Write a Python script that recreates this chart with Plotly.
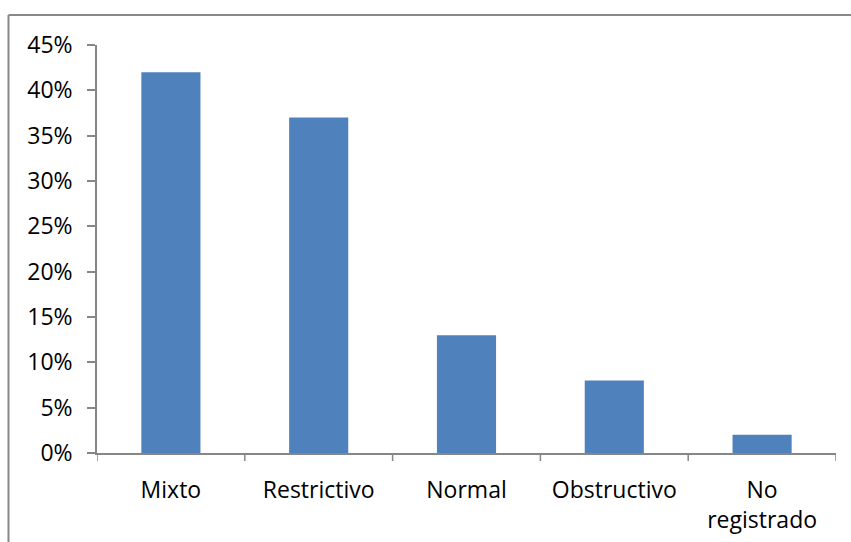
import plotly.graph_objects as go

# Spirometric pattern distribution
categories = ["Mixto", "Restrictivo", "Normal", "Obstructivo", "No<br>registrado"]
percentages = [42, 37, 13, 8, 2]
y_ticks = [0, 5, 10, 15, 20, 25, 30, 35, 40, 45]
y_tick_labels = [f"{v}%" for v in y_ticks]

W, H = 851, 542
ml, mr, mt, mb = 97, 15, 45, 88.5
pw, ph = W - ml - mr, H - mt - mb

axis_color = "#868686"
font = dict(family="'Open Sans', sans-serif", size=23, color="#000000")

fig = go.Figure(
    go.Bar(
        x=list(range(len(categories))),
        y=percentages,
        marker=dict(color="#4F81BD", line=dict(width=0)),
        width=0.4,
        hoverinfo="skip",
    )
)

fig.update_layout(
    width=W,
    height=H,
    margin=dict(l=ml, r=mr, t=mt, b=mb, pad=0, autoexpand=False),
    paper_bgcolor="white",
    plot_bgcolor="white",
    font=font,
    showlegend=False,
)

fig.update_yaxes(
    range=[0, 45],
    tickvals=y_ticks,
    ticktext=y_tick_labels,
    showgrid=False,
    zeroline=False,
    showline=True,
    linecolor=axis_color,
    linewidth=1.5,
    ticks="outside",
    ticklen=8,
    tickwidth=1.5,
    tickcolor=axis_color,
    ticklabelstandoff=10,
    automargin=False,
)

fig.update_xaxes(
    range=[-0.5, len(categories) - 0.5],
    tickvals=list(range(len(categories))),
    ticktext=categories,
    showgrid=False,
    zeroline=False,
    showline=True,
    linecolor=axis_color,
    linewidth=1.5,
    ticks="",
    ticklabelstandoff=16,
    automargin=False,
)

# Category separator ticks on the x axis (between categories)
for i in range(len(categories) + 1):
    fig.add_shape(
        type="line",
        xref="x",
        yref="paper",
        x0=i - 0.5,
        x1=i - 0.5,
        y0=0,
        y1=-8 / ph,
        line=dict(color=axis_color, width=1.5),
    )

# Chart frame (top and left edges)
fx0 = (8.5 - ml) / pw
fy_top = (H - 15 - mb) / ph
fig.add_shape(
    type="line", xref="paper", yref="paper",
    x0=fx0, x1=(W - ml) / pw + 0.01, y0=fy_top, y1=fy_top,
    line=dict(color="#888888", width=2),
)
fig.add_shape(
    type="line", xref="paper", yref="paper",
    x0=fx0, x1=fx0, y0=fy_top, y1=-mb / ph - 0.01,
    line=dict(color="#888888", width=2),
)

fig.write_html("out.html")
